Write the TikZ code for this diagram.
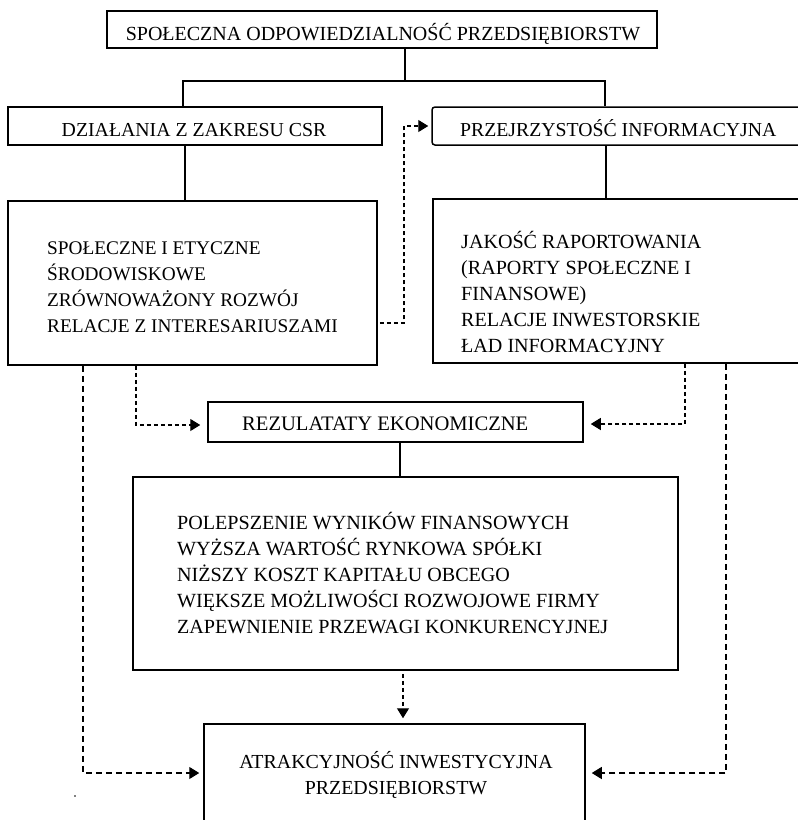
\documentclass[tikz,border=0pt]{standalone}
\usepackage{fontspec}
\setmainfont{Liberation Serif}
\usetikzlibrary{arrows.meta}
\newcommand\topstrut{\rule{0pt}{18pt}}
\newcommand\fs[1]{\fontsize{#1}{26}\selectfont}
\tikzset{
  box/.style={draw, line width=1.5pt, rectangle, inner sep=0pt},
  txt/.style={inner sep=0pt, font={\fs{19.5}}},
  conn/.style={line width=1.2pt},
  dconn/.style={line width=1.2pt, dash pattern=on 4pt off 3pt, -{Triangle[length=10pt,width=12pt]}},
  longdash/.style={dash pattern=on 6pt off 4pt},
}
\begin{document}
\begin{tikzpicture}[x=1pt,y=-1pt]
\useasboundingbox (0,0) rectangle (798,820);
% boxes
\node[box, minimum width=550pt, minimum height=37pt] (top) at (382,29.5) {};
\node[box, minimum width=374pt, minimum height=38pt] (csr) at (195,126) {};
\node[box, rounded corners=3pt, minimum width=380pt, minimum height=38pt] (prz) at (622,126) {};
\node[box, minimum width=369pt, minimum height=164pt] (spol) at (192.5,283) {};
\node[box, minimum width=379pt, minimum height=164pt] (jak) at (622.5,281) {};
\node[box, minimum width=375pt, minimum height=40pt] (rez) at (395.5,422) {};
\node[box, minimum width=545pt, minimum height=193pt] (pol) at (405.5,573.5) {};
\node[box, minimum width=381pt, minimum height=116pt] (atr) at (394.5,782) {};
% texts
\node[txt, font=\fs{20}, anchor=base] (ttop) at (383,40) {SPOŁECZNA ODPOWIEDZIALNOŚĆ PRZEDSIĘBIORSTW};
\node[txt, font=\fs{19.8}, anchor=base] (tcsr) at (194,136.5) {DZIAŁANIA Z ZAKRESU CSR};
\node[txt, font=\fs{19.75}, anchor=base west] (tprz) at (460,136.5) {PRZEJRZYSTOŚĆ INFORMACYJNA};
\node[txt, font=\fs{19.3}, anchor=north west, align=left] (tspol) at (47,236) {\topstrut SPOŁECZNE I ETYCZNE\\ŚRODOWISKOWE\\ZRÓWNOWAŻONY ROZWÓJ\\RELACJE Z INTERESARIUSZAMI};
\node[txt, font=\fs{20.1}, anchor=north west, align=left] (tjak) at (461,230.5) {\topstrut JAKOŚĆ RAPORTOWANIA\\(RAPORTY SPOŁECZNE I\\FINANSOWE)\\RELACJE INWESTORSKIE\\ŁAD INFORMACYJNY};
\node[txt, font=\fs{20.6}, anchor=base west] (trez) at (242,430) {REZULATATY EKONOMICZNE};
\node[txt, font=\fs{20.1}, anchor=north west, align=left] (tpol) at (177,511.5) {\topstrut POLEPSZENIE WYNIKÓW FINANSOWYCH\\WYŻSZA WARTOŚĆ RYNKOWA SPÓŁKI\\NIŻSZY KOSZT KAPITAŁU OBCEGO\\WIĘKSZE MOŻLIWOŚCI ROZWOJOWE FIRMY\\ZAPEWNIENIE PRZEWAGI KONKURENCYJNEJ};
\node[txt, font=\fs{19.9}, anchor=north, align=center] (tatr) at (396,750.5) {\topstrut ATRAKCYJNOŚĆ INWESTYCYJNA\\PRZEDSIĘBIORSTW};
% solid connectors
\draw[conn] (405,0 |- top.south) -- (405,81);
\draw[conn] (183,0 |- csr.north) |- (605,81) -- (605,0 |- prz.north);
\draw[conn] (185,0 |- csr.south) -- (185,0 |- spol.north);
\draw[conn] (606,0 |- prz.south) -- (606,0 |- jak.north);
\draw[conn] (400,0 |- rez.south) -- (400,0 |- pol.north);
% dashed connectors
\draw[dconn, shorten <=2pt, shorten >=3pt] (spol.east |- 0,323) -- (404,323) |- (prz.west);
\draw[dconn, shorten >=7pt] (136,0 |- spol.south) -- (136,425) -- (rez.west |- 0,425);
\draw[dconn, shorten >=7pt] (685,0 |- jak.south) -- (685,424) -- (rez.east |- 0,424);
\draw[dconn, shorten <=3pt, shorten >=5pt] (403,0 |- pol.south) -- (403,0 |- atr.north);
\draw[dconn, longdash, shorten >=4pt] (83,0 |- spol.south) -- (83,773) -- (atr.west |- 0,773);
\draw[dconn, longdash, shorten >=6pt] (726,0 |- jak.south) -- (726,773) -- (atr.east |- 0,773);
\fill (75,796) circle (0.9pt);
\end{tikzpicture}
\end{document}
